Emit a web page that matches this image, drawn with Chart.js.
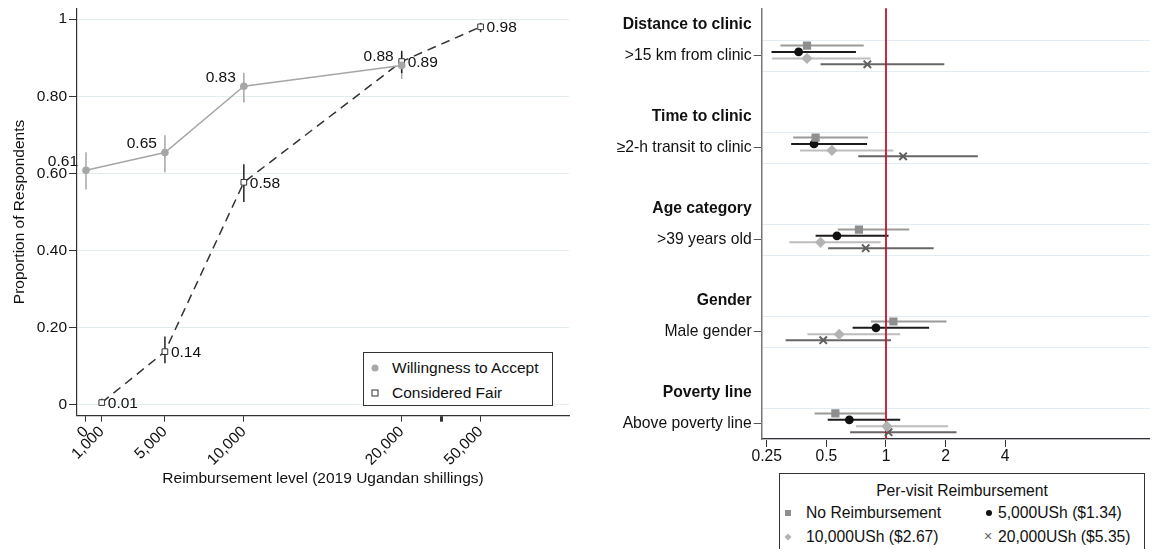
<!DOCTYPE html>
<html>
<head>
<meta charset="utf-8">
<script src="https://cdn.jsdelivr.net/npm/chart.js@4.4.0/dist/chart.umd.min.js"></script>
<style>
html,body{margin:0;padding:0;background:#fff;overflow:hidden;width:1157px;height:549px;font-family:"Liberation Sans",Arial,Helvetica,sans-serif;color:#111;}
#c1{position:absolute;left:0;top:0;}
#c2{position:absolute;left:590px;top:0;}
.legend{position:absolute;border:1px solid #333;background:#fff;box-sizing:border-box;}
.legend .t{position:absolute;line-height:1;white-space:nowrap;transform:translateY(-50%);}
.legend .m{position:absolute;transform:translate(-50%,-50%);}
</style>
</head>
<body>
<canvas id="c1" width="590" height="549"></canvas>
<canvas id="c2" width="567" height="549"></canvas>

<div class="legend" id="lg1" style="left:363px;top:352px;width:190px;height:54px;font-size:15.5px;">
  <span class="m" style="left:11px;top:15px;width:7px;height:7px;border-radius:50%;background:#a8a8a8;"></span>
  <div class="t" id="lg1a" style="left:28px;top:15px;"></div>
  <span class="m" style="left:11px;top:40px;width:7px;height:7px;border:1px solid #333;box-sizing:border-box;background:#fff;"></span>
  <div class="t" id="lg1b" style="left:28px;top:40px;"></div>
</div>

<div class="legend" id="lg2" style="left:779px;top:473px;width:366px;height:100px;font-size:15.7px;">
  <div class="t" id="lg2title" style="left:0;width:364px;text-align:center;top:17px;"></div>
  <span class="m" style="left:8px;top:38.5px;width:6px;height:6px;background:#8e8e8e;"></span>
  <div class="t" id="lg2s0" style="left:26px;top:38.5px;"></div>
  <span class="m" style="left:209px;top:38.5px;width:6px;height:6px;border-radius:50%;background:#111;"></span>
  <div class="t" id="lg2s1" style="left:218px;top:38.5px;"></div>
  <span class="m" style="left:8px;top:62.5px;width:5px;height:5px;background:#b3b3b3;transform:translate(-50%,-50%) rotate(45deg);"></span>
  <div class="t" id="lg2s2" style="left:26px;top:62.5px;"></div>
  <span class="m" style="left:208px;top:62px;font-size:14px;line-height:1;color:#5e5e5e;">×</span>
  <div class="t" id="lg2s3" style="left:218px;top:62.5px;"></div>
</div>

<script>
// ---------------- LEFT PANEL DATA ----------------
const reimbLevels = [0, 1000, 5000, 10000, 20000, 50000];
const reimbTickLabels = ["0", "1,000", "5,000", "10,000", "20,000", "50,000"];
const leftSeriesNames = ["Willingness to Accept", "Considered Fair"];

const wtaX  = [0, 5000, 10000, 20000];
const wtaY  = [0.608, 0.654, 0.826, 0.880];
const wtaLo = [0.558, 0.603, 0.784, 0.845];
const wtaHi = [0.655, 0.699, 0.861, 0.912];

const fairX  = [1000, 5000, 10000, 20000, 50000];
const fairY  = [0.006, 0.138, 0.577, 0.890, 0.980];
const fairLo = [0.000, 0.108, 0.526, 0.860, 0.966];
const fairHi = [0.016, 0.177, 0.624, 0.918, 0.990];

const yTicksLeft = [0, 0.2, 0.4, 0.6, 0.8, 1];

// ---------------- RIGHT PANEL DATA ----------------
const groupTitles = ["Distance to clinic", "Time to clinic", "Age category", "Gender", "Poverty line"];
const rowLabels = [">15 km from clinic", "\u22652-h transit to clinic", ">39 years old", "Male gender", "Above poverty line"];
const rightSeriesNames = ["No Reimbursement", "5,000USh ($1.34)", "10,000USh ($2.67)", "20,000USh ($5.35)"];
const rightLegendTitle = "Per-visit Reimbursement";

const orNone   = [0.399, 0.441, 0.730, 1.090, 0.555];
const orNoneLo = [0.293, 0.340, 0.571, 0.840, 0.436];
const orNoneHi = [0.772, 0.811, 1.310, 2.020, 0.990];

const or5k   = [0.362, 0.433, 0.565, 0.890, 0.653];
const or5kLo = [0.264, 0.332, 0.441, 0.678, 0.508];
const or5kHi = [0.705, 0.802, 1.030, 1.650, 1.180];

const or10k   = [0.399, 0.533, 0.467, 0.580, 1.010];
const or10kLo = [0.266, 0.368, 0.325, 0.401, 0.705];
const or10kHi = [0.837, 1.088, 0.940, 1.180, 2.060];

const or20k   = [0.805, 1.220, 0.790, 0.482, 1.030];
const or20kLo = [0.467, 0.724, 0.510, 0.311, 0.659];
const or20kHi = [1.970, 2.910, 1.740, 1.060, 2.270];

const orTicks = [0.25, 0.5, 1, 2, 4];
const orTickLabels = ["0.25", "0.5", "1", "2", "4"];
const refLineValue = 1;

// ---------------- COMMON ----------------
const FONT = "'Liberation Sans', Arial, Helvetica, sans-serif";
Chart.defaults.font.family = FONT;
Chart.defaults.color = '#111';
Chart.defaults.animation = false;

// axis break on left x axis: values above 20,000 compressed
const breakFrom = 20000, breakCompress = 6;
const mapX = v => v > breakFrom ? breakFrom + (v - breakFrom) / breakCompress : v;
const breakMark = breakFrom + 2500;

const zeroPad = s => { s.paddingTop = 0; s.paddingBottom = 0; s.paddingLeft = 0; s.paddingRight = 0; };

// ---------------- LEFT CHART ----------------
const leftErrorBars = {
  id: 'leftErrorBars',
  beforeDatasetsDraw(chart) {
    const {ctx, scales: {x, y}} = chart;
    const sets = [
      {xs: wtaX, lo: wtaLo, hi: wtaHi, color: '#a6a6a6'},
      {xs: fairX, lo: fairLo, hi: fairHi, color: '#222'}
    ];
    ctx.save();
    sets.forEach(s => {
      ctx.strokeStyle = s.color; ctx.lineWidth = 1.5;
      s.xs.forEach((v, i) => {
        const px = x.getPixelForValue(mapX(v));
        ctx.beginPath();
        ctx.moveTo(px, y.getPixelForValue(s.lo[i]));
        ctx.lineTo(px, y.getPixelForValue(s.hi[i]));
        ctx.stroke();
      });
    });
    ctx.restore();
  }
};
const leftLabels = {
  id: 'leftLabels',
  afterDatasetsDraw(chart) {
    const {ctx, scales: {x, y}} = chart;
    ctx.save();
    ctx.font = '15.5px ' + FONT;
    ctx.fillStyle = '#111';
    ctx.textBaseline = 'middle';
    ctx.textAlign = 'right';
    wtaX.forEach((v, i) => {
      ctx.fillText(wtaY[i].toFixed(2), x.getPixelForValue(mapX(v)) - 8, y.getPixelForValue(wtaY[i]) - 9);
    });
    ctx.textAlign = 'left';
    fairX.forEach((v, i) => {
      ctx.fillText(fairY[i].toFixed(2), x.getPixelForValue(mapX(v)) + 6, y.getPixelForValue(fairY[i]) + 1);
    });
    ctx.restore();
  }
};

const xTickVals = reimbLevels.map(mapX).concat([breakMark]).sort((a, b) => a - b);
const xLabelFor = v => {
  const i = reimbLevels.findIndex(r => mapX(r) === v);
  return i >= 0 ? reimbTickLabels[i] : '';
};

new Chart(document.getElementById('c1'), {
  type: 'scatter',
  data: {
    datasets: [
      {
        label: leftSeriesNames[0],
        data: wtaX.map((v, i) => ({x: mapX(v), y: wtaY[i]})),
        showLine: true,
        borderColor: '#a6a6a6', backgroundColor: '#a6a6a6',
        borderWidth: 1.5, pointRadius: 3.8, pointBorderWidth: 0, pointStyle: 'circle'
      },
      {
        label: leftSeriesNames[1],
        data: fairX.map((v, i) => ({x: mapX(v), y: fairY[i]})),
        showLine: true,
        borderColor: '#333', backgroundColor: '#fff',
        borderWidth: 1.5, borderDash: [9, 6],
        pointRadius: 4, pointBorderWidth: 1, pointStyle: 'rect',
        pointBorderColor: '#333', pointBackgroundColor: '#fff'
      }
    ]
  },
  options: {
    responsive: false,
    animation: false,
    layout: {padding: {top: 8.3, right: 21, left: 0, bottom: 0}},
    plugins: {legend: {display: false}, tooltip: {enabled: false}},
    scales: {
      x: {
        type: 'linear', min: -570, max: 30600,
        afterBuildTicks: s => { s.ticks = xTickVals.map(v => ({value: v})); },
        afterFit: s => { s.height = 133.3; zeroPad(s); },
        ticks: {
          autoSkip: false, minRotation: 45, maxRotation: 45, padding: 1,
          font: {size: 15.5}, color: '#111',
          callback: v => xLabelFor(v)
        },
        grid: {
          drawOnChartArea: false, drawTicks: true, tickLength: 6,
          tickColor: '#333',
          tickWidth: ctx => (ctx.tick && ctx.tick.value === breakMark) ? 3 : 1
        },
        border: {color: '#333', width: 1.2},
        title: {display: true, text: 'Reimbursement level (2019 Ugandan shillings)',
                font: {size: 15.5}, color: '#111', padding: {top: 0, bottom: 60.5}}
      },
      y: {
        type: 'linear', min: -0.028, max: 1.028,
        afterBuildTicks: s => { s.ticks = yTicksLeft.map(v => ({value: v})); },
        afterFit: s => { s.width = 77; zeroPad(s); },
        ticks: {
          padding: 2, font: {size: 15.5}, color: '#111',
          callback: v => v === 0 ? '0' : (v === 1 ? '1' : v.toFixed(2))
        },
        grid: {color: '#e2edf0', lineWidth: 1, tickColor: '#333', tickLength: 8},
        border: {color: '#333', width: 1.2},
        title: {display: true, text: 'Proportion of Respondents',
                font: {size: 15.5}, color: '#111', padding: {top: 10.7, bottom: 0}}
      }
    }
  },
  plugins: [leftErrorBars, leftLabels]
});

// ---------------- RIGHT CHART ----------------
const orEst = [orNone, or5k, or10k, or20k];
const orLo = [orNoneLo, or5kLo, or10kLo, or20kLo];
const orHi = [orNoneHi, or5kHi, or10kHi, or20kHi];
const seriesStyle = [
  {pointStyle: 'rect',     radius: 5.8, color: '#8e8e8e', ci: '#9a9a9a', bw: 0},
  {pointStyle: 'circle',   radius: 4.4, color: '#111',    ci: '#1c1c1c', bw: 0},
  {pointStyle: 'rectRot',  radius: 5.6, color: '#b3b3b3', ci: '#bdbdbd', bw: 0},
  {pointStyle: 'crossRot', radius: 5.2, color: '#5e5e5e', ci: '#666',    bw: 2}
];
const seriesOffset = [-0.333, -0.127, 0.085, 0.277];
const rowPos = g => 3 * g + 1;
const headerPos = g => 3 * g;

const yTickVals = [];
groupTitles.forEach((_, g) => { yTickVals.push(headerPos(g), rowPos(g) - 0.5, rowPos(g), rowPos(g) + 0.5); });
const yKind = v => {
  const r = ((v % 3) + 3) % 3;
  if (Math.abs(r) < 1e-6) return 'header';
  if (Math.abs(r - 1) < 1e-6) return 'row';
  return 'grid';
};

const rightCI = {
  id: 'rightCI',
  beforeDatasetsDraw(chart) {
    const {ctx, scales: {x, y}, chartArea} = chart;
    ctx.save();
    orEst.forEach((est, s) => {
      ctx.strokeStyle = seriesStyle[s].ci; ctx.lineWidth = 2;
      est.forEach((v, g) => {
        const py = y.getPixelForValue(rowPos(g) + seriesOffset[s]);
        ctx.beginPath();
        ctx.moveTo(x.getPixelForValue(orLo[s][g]), py);
        ctx.lineTo(x.getPixelForValue(orHi[s][g]), py);
        ctx.stroke();
      });
    });
    const rx = x.getPixelForValue(refLineValue);
    ctx.strokeStyle = '#c8102e'; ctx.lineWidth = 1.8;
    ctx.beginPath(); ctx.moveTo(rx, chartArea.top); ctx.lineTo(rx, chartArea.bottom); ctx.stroke();
    ctx.restore();
  }
};

new Chart(document.getElementById('c2'), {
  type: 'scatter',
  data: {
    datasets: orEst.map((est, s) => ({
      label: rightSeriesNames[s],
      data: est.map((v, g) => ({x: v, y: rowPos(g) + seriesOffset[s]})),
      pointStyle: seriesStyle[s].pointStyle,
      pointRadius: seriesStyle[s].radius,
      backgroundColor: seriesStyle[s].color,
      borderColor: seriesStyle[s].color,
      pointBorderWidth: seriesStyle[s].bw,
      showLine: false
    }))
  },
  options: {
    responsive: false,
    animation: false,
    layout: {padding: {top: 8.3, right: 0, left: 0, bottom: 0}},
    plugins: {legend: {display: false}, tooltip: {enabled: false}},
    scales: {
      x: {
        type: 'logarithmic', min: 0.2356, max: 21.5,
        afterBuildTicks: s => { s.ticks = orTicks.map(v => ({value: v})); },
        afterFit: s => { s.height = 110; zeroPad(s); },
        ticks: {
          autoSkip: false, maxRotation: 0, minRotation: 0, padding: 0,
          font: {size: 15.7}, color: '#111',
          callback: v => { const i = orTicks.indexOf(v); return i >= 0 ? orTickLabels[i] : ''; }
        },
        grid: {drawOnChartArea: false, tickLength: 8, tickColor: '#333'},
        border: {color: '#333', width: 1.2}
      },
      y: {
        type: 'linear', reverse: true, min: -0.55, max: 13.5,
        afterBuildTicks: s => { s.ticks = yTickVals.map(v => ({value: v})); },
        afterFit: s => { s.width = 171.7; zeroPad(s); },
        ticks: {
          autoSkip: false, padding: 2, color: '#111',
          font: ctx => ({size: 15.7, weight: (ctx.tick && yKind(ctx.tick.value) === 'header') ? 'bold' : 'normal'}),
          callback: v => {
            const k = yKind(v);
            if (k === 'header') return groupTitles[Math.round(v / 3)];
            if (k === 'row') return rowLabels[Math.round((v - 1) / 3)];
            return '';
          }
        },
        grid: {
          lineWidth: 1, tickLength: 8,
          color: ctx => (ctx.tick && yKind(ctx.tick.value) === 'grid') ? '#e3ebf3' : 'rgba(0,0,0,0)',
          tickColor: ctx => (ctx.tick && yKind(ctx.tick.value) === 'row') ? '#555' : 'rgba(0,0,0,0)'
        },
        border: {color: '#777', width: 1.5}
      }
    }
  },
  plugins: [rightCI]
});

// ---------------- HTML LEGENDS (text) ----------------
document.getElementById('lg1a').textContent = leftSeriesNames[0];
document.getElementById('lg1b').textContent = leftSeriesNames[1];
document.getElementById('lg2title').textContent = rightLegendTitle;
rightSeriesNames.forEach((n, i) => { document.getElementById('lg2s' + i).textContent = n; });
</script>
</body>
</html>
